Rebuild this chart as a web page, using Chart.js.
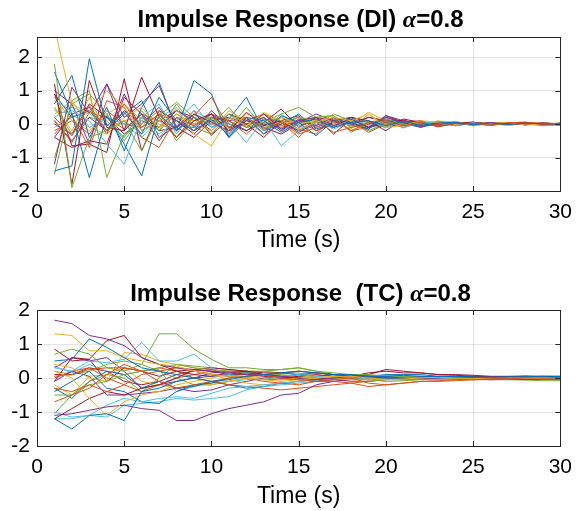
<!DOCTYPE html>
<html>
<head>
<meta charset="utf-8">
<script src="https://cdn.jsdelivr.net/npm/chart.js@4.4.1/dist/chart.umd.min.js"></script>
<style>
  body { margin: 0; background: #fff; }
  #wrap { position: relative; width: 581px; height: 511px; }
  .box { position: absolute; left: 0; width: 581px; }
  .ttl { position: absolute; left: 37px; width: 527px; text-align: center;
         font: bold 24px "Liberation Sans", Arial, sans-serif; color: #000; line-height: 28px; white-space: pre; }
  .ttl i { font-family: "Liberation Serif", "DejaVu Serif", serif; font-weight: bold; }
</style>
</head>
<body>
<div id="wrap">
  <div class="box" style="top:0;height:255px"><canvas id="diChart" width="581" height="255"></canvas></div>
  <div class="box" style="top:255px;height:256px"><canvas id="tcChart" width="581" height="256"></canvas></div>
  <div class="ttl" style="top:5px">Impulse Response (DI) <i>α</i>=0.8</div>
  <div class="ttl" style="top:279px">Impulse Response  (TC) <i>α</i>=0.8</div>
</div>
<script>
var steps = [1,2,3,4,5,6,7,8,9,10,11,12,13,14,15,16,17,18,19,20,21,22,23,24,25,26,27,28,29,30];
var xTicks = [0, 5, 10, 15, 20, 25, 30];
var yTicks = [-2, -1, 0, 1, 2];
var lineColors = ['#0072BD', '#D95319', '#EDB120', '#7E2F8E', '#77AC30', '#4DBEEE', '#A2142F'];

// DI kernel realisations
var diRuns = [
  [-1.40,-1.25,1.95,-0.05,0.35,-0.30,0.80,0.10,-0.20,0.15,-0.35,0.20,0.10,-0.25,0.05,0.15,-0.10,0.05,0.10,-0.05,0.08,-0.04,0.03,0.05,-0.02,0.03,-0.01,0.02,0.01,0.00],
  [0.20,-0.35,0.55,-0.20,0.60,-0.10,0.30,-0.40,0.25,0.80,-0.10,0.20,-0.15,0.05,-0.30,-0.10,0.15,-0.20,0.05,0.10,-0.05,0.06,-0.08,0.03,0.02,-0.03,0.04,0.06,-0.02,0.01],
  [2.90,0.60,0.30,1.00,0.50,-0.20,0.10,0.45,-0.30,-0.65,0.20,-0.05,0.35,0.10,-0.15,0.05,0.20,0.10,0.30,-0.10,-0.05,0.10,0.05,0.08,-0.06,0.02,0.05,-0.03,0.00,0.02],
  [-1.20,1.10,0.30,1.20,0.20,0.60,1.15,-0.10,0.30,0.05,-0.20,0.10,0.30,-0.15,0.10,0.20,-0.05,0.15,-0.10,0.20,0.05,-0.08,0.04,0.02,-0.03,0.05,0.01,-0.02,0.03,0.00],
  [1.80,-1.90,-0.40,-0.20,0.10,-0.80,0.25,0.65,0.20,0.00,0.50,-0.10,0.05,0.30,0.50,0.20,0.25,-0.25,0.05,0.15,0.00,-0.06,0.08,0.03,0.00,-0.04,0.02,0.01,-0.05,-0.02],
  [0.70,0.40,0.10,-0.60,-1.20,0.20,-0.30,0.10,0.60,-0.10,0.05,-0.55,0.15,-0.65,-0.20,0.05,-0.10,0.15,-0.05,0.10,-0.12,0.06,0.03,-0.05,0.04,-0.02,0.03,0.00,0.02,-0.01],
  [1.20,-1.80,1.30,-0.10,-0.20,1.40,0.20,-0.40,0.10,0.30,-0.20,0.35,-0.05,0.10,-0.25,0.05,-0.10,0.20,0.10,-0.20,0.15,0.05,-0.08,0.02,0.06,-0.02,0.00,0.05,-0.03,0.02],
  [1.55,0.30,-1.60,0.25,-0.60,-1.55,0.30,-0.20,1.30,0.90,-0.40,0.20,-0.30,0.25,0.05,-0.35,0.10,0.05,-0.15,0.20,0.02,-0.10,0.06,0.04,0.02,-0.03,0.04,-0.01,0.02,0.01],
  [-0.30,0.25,-0.70,0.70,0.50,-0.40,-0.70,0.20,-0.05,0.30,0.10,-0.30,0.15,0.05,-0.40,0.10,-0.25,-0.10,0.00,0.05,-0.10,0.04,-0.03,0.02,0.05,-0.04,0.02,0.01,0.04,0.00],
  [0.50,-0.20,0.80,-0.30,0.20,0.50,-0.10,0.30,0.00,-0.20,0.40,0.10,-0.30,0.20,0.00,0.10,0.05,-0.15,0.30,-0.05,0.08,-0.04,0.10,-0.02,0.03,0.00,-0.04,0.03,0.01,-0.02],
  [1.00,0.60,-0.60,1.20,-0.20,0.30,-0.50,0.20,-0.20,0.40,-0.10,0.00,0.20,-0.20,0.15,-0.05,0.20,0.00,-0.15,0.25,0.10,-0.05,0.00,0.06,-0.04,0.02,0.03,-0.02,0.00,0.03],
  [-1.50,0.70,1.00,-1.60,-0.30,0.00,0.40,-0.50,0.10,0.20,-0.15,0.50,-0.10,0.05,0.20,-0.05,0.30,0.10,-0.20,0.00,0.05,0.02,-0.06,0.04,0.00,0.03,-0.03,0.01,0.02,-0.04],
  [0.20,0.50,0.30,0.00,-0.40,0.20,0.60,-0.30,0.40,0.10,-0.30,0.20,-0.20,0.30,-0.10,0.00,0.20,-0.05,0.10,-0.10,0.05,-0.10,0.02,0.05,0.01,-0.02,0.00,0.03,-0.01,0.02],
  [0.90,-0.65,-0.60,-0.85,1.35,-0.80,0.40,0.10,-0.30,0.20,0.10,-0.20,0.05,0.45,-0.10,0.20,-0.30,0.15,-0.10,0.05,0.12,-0.02,0.04,-0.05,0.03,0.02,-0.01,0.04,0.02,0.00],
  [0.60,1.45,-0.40,0.50,-0.80,0.50,1.25,-0.20,0.30,-0.10,0.15,0.80,-0.20,0.00,0.30,-0.15,0.05,0.20,-0.10,0.10,0.00,0.05,-0.04,0.06,0.02,-0.02,0.03,0.00,-0.01,0.02],
  [0.10,-0.55,0.35,0.20,-0.15,0.30,0.10,-0.10,0.40,-0.35,0.20,-0.10,0.30,-0.05,0.10,-0.20,0.00,0.10,-0.25,0.00,-0.05,0.08,0.02,-0.03,0.04,0.00,0.02,-0.02,0.03,0.01],
  [0.80,0.10,-0.20,0.30,0.60,0.10,-0.40,0.20,0.10,0.00,-0.20,0.30,0.15,-0.10,0.20,0.10,-0.05,0.00,0.35,0.10,-0.03,0.04,0.06,-0.02,0.00,0.04,-0.03,0.02,0.00,0.01],
  [-0.40,0.30,0.50,-0.30,0.90,-0.20,0.10,0.40,0.10,0.30,-0.40,0.10,0.00,-0.10,0.05,0.30,0.10,-0.05,0.00,0.15,-0.02,0.06,-0.05,0.03,0.02,0.00,0.02,-0.02,0.01,0.00],
  [-1.00,0.60,0.90,0.30,-0.50,0.20,-0.20,0.60,-0.10,-0.30,0.30,0.00,0.10,-0.15,0.10,0.20,0.25,-0.10,0.05,-0.05,0.04,0.00,-0.04,0.02,0.03,-0.01,0.00,0.02,-0.02,-0.03],
  [0.40,0.30,-0.10,0.20,0.00,-0.40,0.10,-0.40,0.20,0.00,0.30,-0.10,0.20,-0.20,0.00,0.15,-0.05,0.10,-0.20,0.05,-0.06,0.00,0.05,-0.02,0.00,0.03,0.01,-0.02,0.02,0.00],
  [-0.40,-0.70,-0.50,-0.60,0.80,0.30,-0.20,-0.10,-0.40,0.10,0.20,0.00,-0.40,0.10,0.25,-0.20,0.05,0.00,0.20,0.10,0.10,-0.04,0.00,0.05,-0.02,0.00,0.03,0.01,0.00,0.02],
  [0.90,0.20,0.40,-0.20,0.30,0.70,-0.40,-0.05,-0.10,0.30,0.00,-0.20,0.15,0.10,-0.20,0.05,-0.10,0.20,0.05,-0.10,0.05,-0.05,0.03,0.00,0.04,-0.02,0.02,0.01,-0.01,0.02],
  [-0.20,0.10,-0.30,0.40,0.00,-0.10,0.30,0.10,-0.20,0.10,-0.25,0.15,-0.05,0.20,-0.15,-0.30,0.20,-0.20,-0.10,0.00,0.05,-0.06,0.02,0.00,-0.03,0.02,0.00,0.03,-0.02,0.01],
  [0.30,0.70,-0.10,-0.30,0.10,0.20,0.00,-0.20,0.30,0.10,-0.10,0.20,-0.20,0.05,0.00,0.20,-0.10,0.10,0.05,-0.10,0.03,0.05,0.00,-0.04,0.02,0.03,-0.02,0.00,0.02,-0.01],
  [0.10,-0.50,0.20,-0.20,0.40,0.00,0.50,-0.20,0.20,-0.30,0.10,0.20,-0.30,0.00,0.20,-0.10,0.10,0.00,0.20,0.10,-0.05,0.03,0.05,-0.02,0.00,-0.03,0.02,0.04,0.00,-0.02],
  [0.50,-0.30,0.20,0.10,-0.40,0.40,-0.20,0.30,0.00,0.20,-0.10,0.00,0.30,0.10,-0.20,0.10,0.15,0.00,-0.10,0.05,0.00,0.04,-0.02,0.03,0.05,-0.02,0.01,0.00,-0.03,0.02],
  [-0.10,0.20,0.40,-0.20,0.10,-0.30,0.20,0.50,-0.10,0.00,0.20,-0.10,0.00,0.20,-0.05,0.10,-0.15,0.05,0.00,0.10,-0.04,0.02,0.00,0.03,-0.02,0.01,0.02,0.00,-0.01,0.01],
  [0.00,-0.30,0.60,0.20,-0.30,0.10,-0.10,0.40,0.20,-0.20,0.30,0.10,-0.10,-0.30,0.00,0.20,0.10,0.20,-0.10,0.25,0.05,0.10,-0.05,0.00,0.04,0.02,0.05,-0.02,0.02,0.01]
];

// TC kernel realisations
var tcRuns = [
  [0.50,0.55,1.15,0.90,0.60,0.30,0.20,0.10,0.00,-0.10,-0.05,0.05,0.10,0.15,0.20,0.15,0.10,0.10,0.05,0.05,0.08,0.05,0.04,0.05,0.03,0.02,0.03,0.04,0.05,0.05],
  [-0.70,-0.50,-0.30,0.10,0.40,0.20,-0.10,-0.30,-0.20,-0.10,0.00,0.05,0.10,0.00,-0.05,-0.10,-0.05,0.00,-0.15,-0.20,-0.15,-0.10,-0.08,-0.05,-0.05,-0.03,-0.02,0.00,0.00,0.02],
  [1.30,1.25,0.80,0.80,0.60,0.50,0.40,0.35,0.20,0.10,0.05,0.00,-0.05,-0.10,-0.05,0.00,0.05,0.05,0.00,-0.05,-0.03,0.00,0.02,0.00,-0.02,0.00,0.01,-0.01,0.00,0.00],
  [1.70,1.60,1.25,1.15,0.95,0.60,0.40,0.30,0.25,0.20,0.15,0.10,0.10,0.05,0.00,-0.05,0.00,0.05,0.05,0.03,0.00,-0.02,0.00,0.02,0.00,-0.03,-0.02,-0.05,-0.03,-0.02],
  [0.70,0.85,0.70,0.30,0.20,0.40,1.30,1.30,0.85,0.55,0.30,0.30,0.25,0.25,0.30,0.20,0.15,0.10,0.10,0.05,0.05,0.03,0.02,0.00,-0.02,-0.03,-0.05,-0.06,-0.08,-0.08],
  [0.30,0.20,0.50,0.45,0.55,1.05,0.50,0.50,0.70,0.30,0.10,0.00,-0.05,0.05,0.10,0.05,0.00,0.02,0.05,0.05,0.03,0.00,-0.02,-0.03,-0.03,-0.02,0.00,0.00,0.02,0.00],
  [0.85,0.50,0.55,1.10,1.25,0.60,0.40,0.20,0.10,0.05,0.15,0.20,0.15,0.15,0.20,0.15,0.10,0.05,0.10,0.25,0.20,0.15,0.10,0.08,0.05,0.03,0.02,0.05,0.03,0.02],
  [-1.20,-1.50,-1.10,-1.05,-1.25,-0.40,-0.30,-0.10,0.00,0.05,0.10,0.15,0.10,0.05,0.10,0.15,0.10,0.05,0.00,0.00,-0.02,0.00,0.02,0.02,0.00,0.00,0.02,0.01,0.03,0.03],
  [-0.30,-0.40,-0.20,-0.40,-0.20,0.10,0.20,0.30,0.20,0.25,0.10,0.00,-0.10,-0.15,-0.20,-0.10,-0.10,-0.15,-0.25,-0.20,-0.15,-0.10,-0.10,-0.08,-0.05,-0.05,-0.03,0.00,-0.02,-0.02],
  [0.20,0.00,-0.60,-1.10,-0.70,-0.50,-0.40,-0.20,-0.10,0.00,0.10,0.05,0.00,-0.05,0.00,0.05,0.00,-0.05,-0.05,0.00,0.02,0.00,0.00,-0.02,0.00,0.02,0.00,0.00,-0.02,0.00],
  [-1.10,-1.05,-0.95,-0.85,-0.80,-0.90,-0.95,-1.25,-1.25,-1.05,-0.90,-0.80,-0.70,-0.50,-0.45,-0.20,-0.10,-0.05,-0.05,0.00,0.00,0.02,0.00,-0.02,-0.03,-0.05,-0.05,-0.03,-0.02,-0.02],
  [-1.05,-0.50,-0.20,-0.10,0.10,0.20,0.30,0.40,0.30,0.25,0.20,0.15,0.20,0.25,0.30,0.20,0.10,0.00,-0.05,-0.10,-0.08,-0.05,-0.03,-0.02,0.00,0.00,-0.02,-0.03,-0.04,-0.05],
  [-1.00,-1.15,-1.10,-0.80,-0.60,-0.70,-0.60,-0.55,-0.60,-0.45,-0.30,-0.25,-0.20,-0.15,-0.10,-0.05,-0.05,0.00,-0.05,-0.05,-0.03,-0.02,-0.03,-0.01,0.00,0.01,0.00,0.02,0.00,0.01],
  [-1.20,-0.90,-0.60,-0.40,-0.50,-0.30,-0.20,0.00,0.25,0.30,0.25,0.20,0.10,0.05,0.00,-0.05,0.00,0.05,0.05,0.00,0.02,0.05,0.03,0.00,-0.02,0.00,0.02,0.00,-0.02,0.00],
  [-0.40,-0.10,0.20,-0.30,-0.40,-0.70,-0.75,-0.40,-0.20,-0.15,0.00,0.05,0.10,0.15,0.10,0.05,0.10,0.10,0.05,0.05,0.03,0.02,0.05,0.04,0.03,0.02,0.03,0.02,0.03,0.04],
  [0.05,0.10,0.25,0.30,0.30,0.20,0.30,0.20,0.00,-0.10,-0.20,-0.25,-0.30,-0.35,-0.30,-0.25,-0.20,-0.15,-0.10,-0.05,-0.05,-0.03,-0.02,-0.04,-0.05,-0.03,-0.02,0.00,0.00,0.00],
  [0.40,0.30,0.00,-0.10,0.75,0.70,0.50,0.40,0.30,0.10,-0.05,-0.15,-0.20,-0.15,-0.10,0.00,0.05,0.05,0.05,0.05,0.03,0.00,-0.02,0.00,0.02,0.00,-0.02,0.00,0.01,0.00],
  [-0.10,0.20,0.05,-0.50,-0.50,-0.45,-0.40,-0.30,-0.40,-0.35,-0.20,-0.10,0.00,0.00,-0.05,-0.10,-0.05,0.00,0.05,0.05,0.05,0.03,0.02,0.00,0.00,0.02,0.03,0.00,-0.02,0.00],
  [-0.50,-0.50,-0.10,0.10,0.00,-0.40,0.00,0.40,0.35,0.30,0.25,0.20,0.20,0.15,0.15,0.05,0.00,0.00,0.02,0.05,0.05,0.03,0.00,-0.02,-0.03,-0.02,0.00,0.00,-0.04,-0.05],
  [-1.20,-1.20,-1.10,-1.15,-0.80,-0.75,-0.70,-0.60,-0.65,-0.60,-0.55,-0.35,-0.25,-0.20,-0.15,-0.10,0.00,0.00,-0.05,-0.03,0.00,0.00,0.00,-0.02,-0.03,0.00,0.02,0.00,0.00,0.00],
  [-0.10,0.60,0.55,-0.10,0.30,0.20,0.05,0.20,0.25,0.20,0.10,0.10,0.05,0.00,0.05,0.10,0.05,0.05,0.15,0.20,0.15,0.15,0.10,0.10,0.08,0.05,0.05,0.06,0.05,0.05],
  [-0.30,-0.60,-0.10,0.20,0.10,-0.30,-0.10,-0.30,-0.25,-0.10,-0.20,-0.30,-0.25,-0.15,-0.10,-0.05,0.00,0.00,0.05,0.10,0.10,0.10,0.05,0.05,0.05,0.03,0.02,0.03,0.05,0.04],
  [0.00,0.20,0.30,0.00,-0.20,-0.40,-0.20,0.00,0.10,0.20,0.20,0.15,0.10,0.00,0.00,0.00,-0.05,-0.10,-0.10,-0.05,0.00,0.02,0.03,0.00,-0.02,0.00,0.02,0.00,0.02,0.00],
  [-0.20,-0.50,0.05,0.10,0.30,-0.10,-0.20,-0.30,-0.20,-0.20,-0.10,0.00,0.10,0.05,0.00,0.05,0.10,0.05,0.00,-0.05,-0.03,-0.02,0.00,0.02,0.02,0.00,-0.02,0.00,0.00,0.00],
  [0.30,0.60,0.50,0.60,0.20,-0.30,-0.20,-0.10,0.00,0.15,0.20,0.20,0.10,0.00,-0.05,-0.05,0.00,0.05,0.05,0.00,0.00,0.02,0.02,0.00,-0.02,0.00,0.00,0.02,0.00,0.00],
  [0.20,0.10,0.20,0.40,0.50,0.40,0.20,0.00,-0.20,-0.20,-0.10,0.00,0.10,0.10,0.05,0.00,0.00,0.00,0.05,0.00,0.02,0.00,-0.02,0.00,0.00,0.02,0.00,-0.02,0.00,0.00],
  [0.35,0.15,0.40,0.20,0.10,0.20,0.25,-0.40,-0.25,-0.15,-0.10,-0.05,0.00,0.05,0.10,0.00,0.00,0.05,-0.05,0.00,0.02,0.00,-0.02,0.00,0.02,0.00,0.00,0.00,0.02,0.00],
  [0.10,0.10,0.30,0.20,-0.10,-0.20,-0.10,0.10,0.20,0.10,0.05,0.00,-0.05,-0.05,0.00,0.00,0.00,0.05,0.00,0.00,0.00,0.02,0.00,0.00,-0.02,0.00,0.00,0.02,0.00,0.00]
];

Chart.defaults.font.family = '"Liberation Sans", Arial, sans-serif';
Chart.defaults.color = '#000';

// MATLAB-like box with inward ticks on all four sides
var axesBox = {
    id: 'axesBox',
    afterDatasetsDraw: function (chart) {
        var ctx = chart.ctx, a = chart.chartArea;
        var xs = chart.scales.x, ys = chart.scales.y;
        ctx.save();
        ctx.strokeStyle = '#262626';
        ctx.lineWidth = 1;
        ctx.beginPath();
        xTicks.forEach(function (v) {
            var px = Math.round(xs.getPixelForValue(v)) + 0.5;
            ctx.moveTo(px, a.bottom); ctx.lineTo(px, a.bottom - 5);
            ctx.moveTo(px, a.top); ctx.lineTo(px, a.top + 5);
        });
        yTicks.forEach(function (v) {
            var py = Math.round(ys.getPixelForValue(v)) + 0.5;
            ctx.moveTo(a.left, py); ctx.lineTo(a.left + 5, py);
            ctx.moveTo(a.right, py); ctx.lineTo(a.right - 5, py);
        });
        ctx.stroke();
        ctx.strokeRect(Math.round(a.left) + 0.5, Math.round(a.top) + 0.5,
                       Math.round(a.right - a.left), Math.round(a.bottom - a.top));
        ctx.restore();
    }
};

function makeChart(id, runs, yMax, padTop, xHeight, titlePad) {
    var datasets = runs.map(function (run, i) {
        return {
            data: run.map(function (y, k) { return { x: steps[k], y: y }; }),
            borderColor: lineColors[i % lineColors.length],
            borderWidth: 1,
            pointRadius: 0,
            tension: 0,
            fill: false
        };
    });
    return new Chart(document.getElementById(id), {
        type: 'line',
        data: { datasets: datasets },
        plugins: [axesBox],
        options: {
            responsive: false,
            animation: false,
            devicePixelRatio: 1,
            layout: { padding: { top: padTop, right: 17, left: 0, bottom: 0 } },
            plugins: { legend: { display: false }, tooltip: { enabled: false } },
            scales: {
                x: {
                    type: 'linear', min: 0, max: 30,
                    afterBuildTicks: function (s) { s.ticks = xTicks.map(function (v) { return { value: v }; }); },
                    afterFit: function (s) { s.height = xHeight; },
                    grid: { color: 'rgba(38,38,38,0.12)', drawTicks: false },
                    border: { display: false },
                    ticks: { font: { size: 21 }, padding: 9, maxRotation: 0 },
                    title: { display: true, text: 'Time (s)', font: { size: 23 }, padding: { top: 0, bottom: titlePad } }
                },
                y: {
                    min: -2, max: yMax,
                    afterBuildTicks: function (s) { s.ticks = yTicks.map(function (v) { return { value: v }; }); },
                    afterFit: function (s) { s.width = 37; },
                    grid: { color: 'rgba(38,38,38,0.12)', drawTicks: false },
                    border: { display: false },
                    ticks: { font: { size: 21 }, padding: 7 }
                }
            }
        }
    });
}

makeChart('diChart', diRuns, 2.6, 37, 64, 1);
makeChart('tcChart', tcRuns, 2, 55, 65, 1);
</script>
</body>
</html>
